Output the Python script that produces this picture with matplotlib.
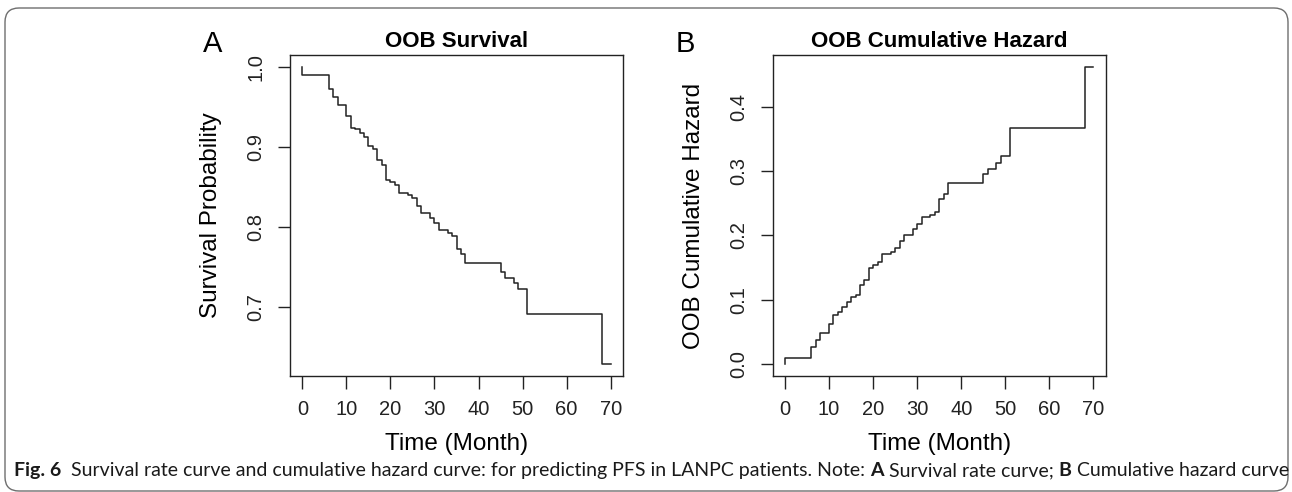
import matplotlib
matplotlib.use('Agg')
import matplotlib.pyplot as plt
from matplotlib.patches import FancyBboxPatch
from matplotlib.transforms import IdentityTransform

plt.rcParams['font.family'] = ['Liberation Sans', 'DejaVu Sans']

# event times (months)
months = [0, 6, 7, 8, 10, 11, 12, 13, 14, 15, 16, 17, 18, 19, 20, 21, 22, 24, 25,
          26, 27, 29, 30, 31, 33, 34, 35, 36, 37, 45, 46, 48, 49, 51, 68]
survival = [0.990, 0.973, 0.963, 0.952, 0.939, 0.924, 0.922, 0.917, 0.912, 0.901,
            0.897, 0.884, 0.877, 0.859, 0.856, 0.852, 0.843, 0.840, 0.836, 0.826,
            0.818, 0.811, 0.805, 0.797, 0.793, 0.789, 0.773, 0.767, 0.755, 0.744,
            0.737, 0.730, 0.723, 0.692, 0.629]
hazard = [0.010, 0.027, 0.038, 0.048, 0.063, 0.077, 0.081, 0.089, 0.096, 0.104,
          0.107, 0.123, 0.131, 0.150, 0.154, 0.159, 0.171, 0.175, 0.180, 0.192,
          0.201, 0.210, 0.218, 0.228, 0.232, 0.237, 0.256, 0.265, 0.281, 0.296,
          0.304, 0.313, 0.323, 0.367, 0.462]
last_month = 70

xticks = [0, 10, 20, 30, 40, 50, 60, 70]
surv_ticks = [0.7, 0.8, 0.9, 1.0]
haz_ticks = [0.0, 0.1, 0.2, 0.3, 0.4]

W, H = 1292, 492
fig = plt.figure(figsize=(W / 100, H / 100), dpi=100)
ink = '#222222'


def px_axes(x0, y0, x1, y1):
    return fig.add_axes([x0 / W, 1 - y1 / H, (x1 - x0) / W, (y1 - y0) / H])


def panel(ax, start, vals, yticks, title, ylabel):
    xs = [0] + months + [last_month]
    ys = [start] + vals + [vals[-1]]
    ax.plot(xs, ys, drawstyle='steps-post', color=ink, lw=1.1)
    ax.set_xlim(-2.8, 72.8)
    lo, hi = min(ys), max(ys)
    r = hi - lo
    ax.set_ylim(lo - 0.04 * r, hi + 0.04 * r)
    ax.set_xticks(xticks)
    ax.set_yticks(yticks)
    ax.set_yticklabels([f'{v:.1f}' for v in yticks], rotation=90, va='center')
    ax.tick_params(length=9, width=1.0, pad=8.5, labelsize=14.5, colors=ink,
                   direction='out')
    for s in ax.spines.values():
        s.set_linewidth(1.0)
        s.set_color(ink)
    ax.set_title(title, fontsize=16, fontweight='bold', pad=6)
    ax.set_xlabel('Time (Month)', fontsize=17.5)
    ax.set_ylabel(ylabel, fontsize=17.5)
    ax.xaxis.set_label_coords(0.5, -0.178)
    ax.yaxis.set_label_coords(-0.204, 0.5)


axA = px_axes(290, 55, 623, 376)
panel(axA, 1.0, survival, surv_ticks, 'OOB Survival', 'Survival Probability')
axB = px_axes(772.7, 55, 1105.7, 376)
panel(axB, 0.0, hazard, haz_ticks, 'OOB Cumulative Hazard', 'OOB Cumulative Hazard')

fig.text(213 / W, 1 - 51.7 / H, 'A', fontsize=21, ha='center', va='baseline')
fig.text(685 / W, 1 - 51.7 / H, 'B', fontsize=21, ha='center', va='baseline')

# rounded frame around the figure
frame = FancyBboxPatch((5, 1), 1283, 483, boxstyle='round,pad=0,rounding_size=14',
                       transform=IdentityTransform(), fill=False, ec='#6e6e6e', lw=1.0)
fig.patches.append(frame)

# caption with bold runs
pieces = [('Fig. 6', 'bold'), ('  Survival rate curve and cumulative hazard curve: for predicting '
          'PFS in LANPC patients. Note: ', 'normal'), ('A', 'bold'),
          (' Survival rate curve; ', 'normal'), ('B', 'bold'), (' Cumulative hazard curve', 'normal')]
cap_font = ['Lato', 'DejaVu Sans']
renderer = fig.canvas.get_renderer()


def draw_caption(size):
    x = 14
    made = []
    for txt, wt in pieces:
        t = fig.text(x / W, 1 - 476 / H, txt, fontsize=size, fontweight=wt,
                     family=cap_font, ha='left', va='baseline', color='#1a1a1a')
        x += t.get_window_extent(renderer).width
        made.append(t)
    return made, x - 14


made, width = draw_caption(12)
for t in made:
    t.remove()
draw_caption(12 * 1269 / width)

fig.savefig('out.png', dpi=100)
